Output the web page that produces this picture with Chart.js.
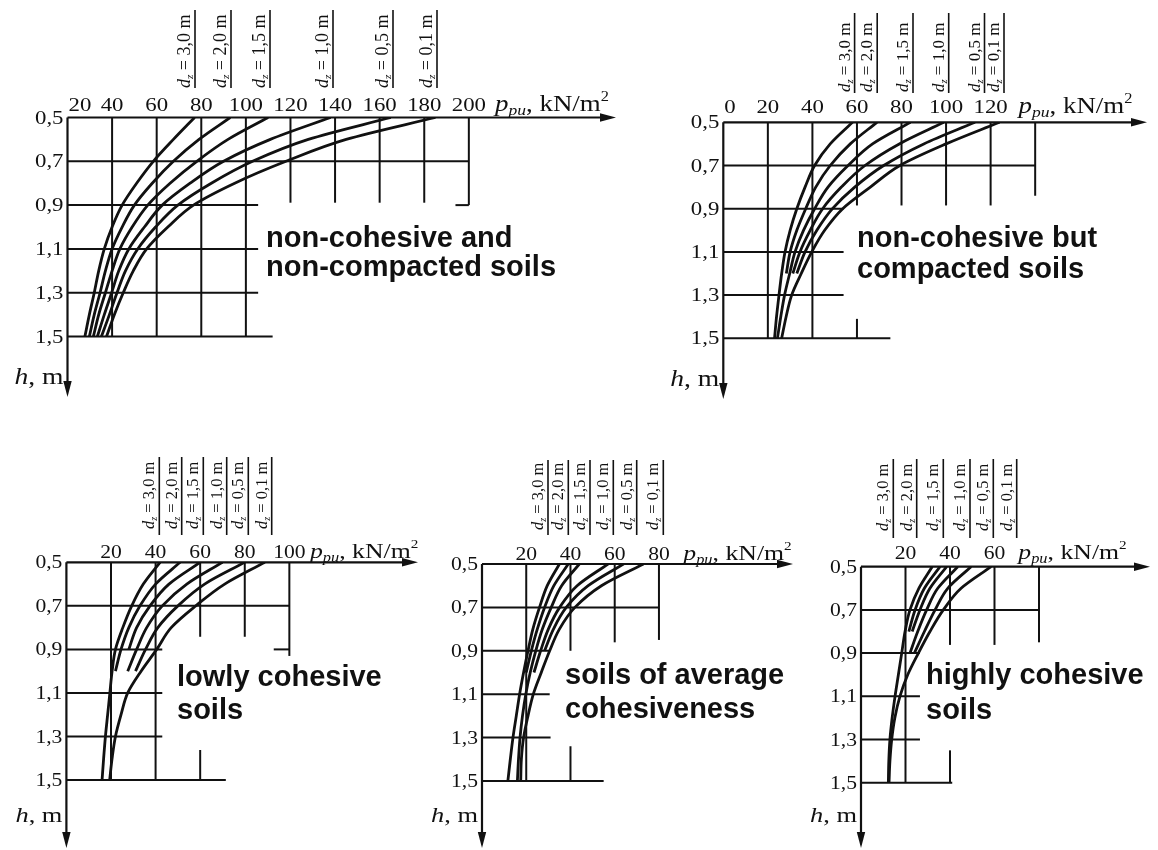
<!DOCTYPE html>
<html>
<head>
<meta charset="utf-8">
<script src="https://cdn.jsdelivr.net/npm/chart.js@4/dist/chart.umd.min.js"></script>
<style>
html,body{margin:0;padding:0;background:#fff;width:1158px;height:850px;overflow:hidden}
#wrap{position:relative;width:1158px;height:850px;background:#fff}
#wrap canvas{position:absolute;left:0;top:0}
</style>
</head>
<body>
<div id="wrap"></div>
<script>
// ---------------- DATA ----------------
const hLevels = [0.5, 0.6, 0.7, 0.8, 0.9, 1.0, 1.1, 1.2, 1.3, 1.4, 1.5];
const depthLabels = ['3,0', '2,0', '1,5', '1,0', '0,5', '0,1'];
const yTicks = [0.5, 0.7, 0.9, 1.1, 1.3, 1.5];

// Panel 1: non-cohesive and non-compacted soils
const p1Ticks = [20, 40, 60, 80, 100, 120, 140, 160, 180, 200];
const p1d30 = [77, 67.5, 58.5, 51, 44.5, 40, 36.5, 34, 32, 29.8, 27.8];
const p1d20 = [93, 79, 67.5, 58, 50, 44.5, 40, 37, 34.6, 32, 29.8];
const p1d15 = [110, 92, 78, 66, 56, 49, 43.5, 40, 37, 34, 31.6];
const p1d10 = [138, 111, 90, 75, 62.5, 54.5, 47.5, 43, 39.8, 36.5, 33.4];
const p1d05 = [165, 128, 103, 84.5, 69.5, 59.5, 51.5, 46, 42.2, 38.8, 35.2];
const p1d01 = [185, 145, 118, 95, 76.5, 65, 55.5, 49.5, 45, 41, 37.5];
const p1GridV = [[40,0.5,1.5],[60,0.5,1.5],[80,0.5,1.5],[100,0.5,1.5],[120,0.5,0.889],[140,0.5,0.889],[160,0.5,0.889],[180,0.5,0.889],[200,0.5,0.9]];
const p1GridH = [[0.7,20,200],[0.9,20,105.5],[0.9,194,200],[1.1,20,105.5],[1.3,20,105.5],[1.5,20,112]];

// Panel 2: non-cohesive but compacted soils
const p2Ticks = [0, 20, 40, 60, 80, 100, 120];
const p2d30 = [58, 48, 41, 36.7, 33, 30, 27.7, 26.2, 25, 23.9, 23];
const p2d20 = [69, 57, 48, 41.5, 37, 33, 30, 28.3];
const p2d15 = [84, 67, 56, 47, 41, 36, 32.2, 29.8, 27.5, 25.8, 24.3];
const p2d10 = [99, 79, 63.6, 53, 44.6, 39, 34.4, 31.2];
const p2d05 = [113, 90, 72, 59, 49, 42, 36.7, 33];
const p2d01 = [124, 100, 79.3, 66, 53.6, 45.5, 39.7, 35, 30.7, 28.2, 26.2];
const p2GridV = [[20,0.5,1.5],[40,0.5,1.5],[60,0.5,0.885],[60,1.41,1.5],[80,0.5,0.885],[100,0.5,0.885],[120,0.5,0.885],[140,0.5,0.84]];
const p2GridH = [[0.7,0,140],[0.9,0,54],[1.1,0,54],[1.3,0,54],[1.5,0,75]];

// Panel 3: lowly cohesive soils
const p3Ticks = [20, 40, 60, 80, 100];
const p3d30 = [42, 34.5, 29.3, 25.3, 22, 20.5, 19.5, 18.5, 17.5, 16.7, 16];
const p3d20 = [51, 40, 33, 28, 24.5, 22];
const p3d15 = [60, 46, 37.5, 31.5, 28];
const p3d10 = [70, 54, 43, 36, 31.5, 27.5];
const p3d05 = [80, 62, 50, 41, 35.5, 31];
const p3d01 = [89, 71, 58, 47, 40.5, 33.5, 27.5, 24.5, 22, 20.5, 19.4];
const p3GridV = [[20,0.5,1.5],[40,0.5,1.5],[60,0.5,0.842],[60,1.362,1.5],[80,0.5,0.842],[100,0.5,0.93]];
const p3GridH = [[0.7,0,100],[0.9,0,43],[0.9,93,100],[1.1,0,43],[1.3,0,43],[1.5,0,71.5]];

// Panel 4: soils of average cohesiveness
const p4Ticks = [20, 40, 60, 80];
const p4d30 = [35, 29.5, 26, 23, 20.8, 18.8, 17, 15.5, 14, 12.8, 11.7];
const p4d20 = [39, 32.5, 28.3, 25, 22.3, 20];
const p4d15 = [44, 36, 31.3, 27.3, 24.3, 21.8, 19.8, 18.3, 17.2, 16.5, 16];
const p4d10 = [57, 43, 35.1, 30, 26.5, 23.5];
const p4d05 = [64, 48, 38.1, 32.3, 28.3];
const p4d01 = [73, 54, 42, 35, 30.6, 26.8, 23.2, 20.8, 18.8, 17.8, 17.5];
const p4GridV = [[20,0.5,1.5],[40,0.5,0.9],[40,1.34,1.5],[60,0.5,0.861],[80,0.5,0.85]];
const p4GridH = [[0.7,0,80],[0.9,0,30.6],[1.1,0,30.6],[1.3,0,31],[1.5,0,55]];

// Panel 5: highly cohesive soils
const p5Ticks = [20, 40, 60];
const p5d30 = [32, 26, 22, 19.8, 18.3, 16.8, 15.3, 14, 13, 12.5, 12.3];
const p5d20 = [35.5, 28.5, 24.3, 21.5];
const p5d15 = [38.5, 31, 26.5, 23];
const p5d10 = [43.5, 34.5, 29.5, 25.5, 22];
const p5d05 = [49.5, 39, 33.3, 28.5, 24];
const p5d01 = [58.5, 45, 37, 31, 25.8, 21, 17.5, 15.2, 13.8, 13, 12.6];
const p5GridV = [[20,0.5,1.5],[40,0.5,0.862],[40,1.35,1.5],[60,0.5,0.862],[80,0.5,0.85]];
const p5GridH = [[0.7,0,80],[0.9,0,26.5],[1.1,0,26.5],[1.3,0,26.5],[1.5,0,41]];

// ---------------- LAYOUT / STYLE ----------------
const W = 1158, H = 850;
const INK = '#111';
const SERIF = '"Liberation Serif", "Times New Roman", serif';
const SANS = '"Liberation Sans", Arial, sans-serif';
const TEXT_SX = 1.2;

const panels = [
  { area:{left:67.5, top:117.5, right:616, bottom:397}, xMin:20, xMax:266, yMax:1.776,
    ticks:p1Ticks, series:[p1d30,p1d20,p1d15,p1d10,p1d05,p1d01], gridV:p1GridV, gridH:p1GridH,
    caption:['non-cohesive and','non-compacted soils'], capX:266, capY:247, capGap:29,
    sep:[195,231,270,333,393,437], sepTop:10, sepBottom:88, lblBottom:88, lblSize:18,
    unitX:495, unitSize:23, tickSize:19, tickBase:111, hBase:384, hSize:23 },
  { area:{left:723.3, top:122.3, right:1147, bottom:399}, xMin:0, xMax:190.2, yMax:1.781,
    ticks:p2Ticks, series:[p2d30,p2d20,p2d15,p2d10,p2d05,p2d01], gridV:p2GridV, gridH:p2GridH,
    caption:['non-cohesive but','compacted soils'], capX:857, capY:247, capGap:31,
    sep:[854.6,877.2,913,948.7,984.5,1004], sepTop:13, sepBottom:93, lblBottom:92, lblSize:17,
    unitX:1018.5, unitSize:23, tickSize:19, tickBase:113.3, hBase:386, hSize:23 },
  { area:{left:66.4, top:562.3, right:418, bottom:848}, xMin:0, xMax:157.7, yMax:1.812,
    ticks:p3Ticks, series:[p3d30,p3d20,p3d15,p3d10,p3d05,p3d01], gridV:p3GridV, gridH:p3GridH,
    caption:['lowly cohesive','soils'], capX:177, capY:686, capGap:33,
    sep:[159.3,181.7,203.3,226.7,248.3,271.7], sepTop:457, sepBottom:535, lblBottom:529, lblSize:16.5,
    unitX:310, unitSize:22, tickSize:18, tickBase:557.5, hBase:822, hSize:22 },
  { area:{left:482, top:564, right:793, bottom:848}, xMin:0, xMax:140.6, yMax:1.809,
    ticks:p4Ticks, series:[p4d30,p4d20,p4d15,p4d10,p4d05,p4d01], gridV:p4GridV, gridH:p4GridH,
    caption:['soils of average','cohesiveness'], capX:565, capY:684, capGap:34,
    sep:[548,568.3,590,613.3,636.7,663.3], sepTop:460, sepBottom:535, lblBottom:530, lblSize:16.5,
    unitX:683.3, unitSize:22, tickSize:18, tickBase:560, hBase:822, hSize:22 },
  { area:{left:861, top:566.7, right:1150, bottom:848}, xMin:0, xMax:129.9, yMax:1.802,
    ticks:p5Ticks, series:[p5d30,p5d20,p5d15,p5d10,p5d05,p5d01], gridV:p5GridV, gridH:p5GridH,
    caption:['highly cohesive','soils'], capX:926, capY:684, capGap:35,
    sep:[893.3,916.7,943.3,970,993.3,1016.7], sepTop:459, sepBottom:538, lblBottom:531, lblSize:16.5,
    unitX:1018.3, unitSize:22, tickSize:18, tickBase:559, hBase:822, hSize:22 }
];

// ---------------- HELPERS ----------------
function drawRuns(ctx, runs, x, y, sx, align) {
  ctx.save();
  ctx.translate(x, y);
  ctx.scale(sx, 1);
  ctx.fillStyle = INK;
  ctx.textBaseline = 'alphabetic';
  ctx.textAlign = 'left';
  let w = 0;
  for (const r of runs) { ctx.font = r.f; w += ctx.measureText(r.t).width; }
  let cx = align === 'right' ? -w : (align === 'center' ? -w / 2 : 0);
  for (const r of runs) {
    ctx.font = r.f;
    ctx.fillText(r.t, cx, r.dy || 0);
    cx += ctx.measureText(r.t).width;
  }
  ctx.restore();
}
function arrowHead(ctx, x, y, dir) {
  ctx.beginPath();
  if (dir === 'right') { ctx.moveTo(x, y); ctx.lineTo(x - 16, y - 4.2); ctx.lineTo(x - 16, y + 4.2); }
  else { ctx.moveTo(x, y); ctx.lineTo(x - 4.2, y - 16); ctx.lineTo(x + 4.2, y - 16); }
  ctx.closePath();
  ctx.fill();
}
function fmtH(v) { return v.toFixed(1).replace('.', ','); }

function makePlugin(P) {
  return {
    id: 'nomogram',
    beforeDatasetsDraw(chart) {
      const ctx = chart.ctx, xs = chart.scales.x, ys = chart.scales.y, ca = chart.chartArea;
      ctx.save();
      ctx.strokeStyle = INK; ctx.fillStyle = INK; ctx.lineCap = 'butt';
      ctx.lineWidth = 2;
      for (const [v, a, b] of P.gridV) {
        const x = xs.getPixelForValue(v);
        ctx.beginPath(); ctx.moveTo(x, ys.getPixelForValue(a)); ctx.lineTo(x, ys.getPixelForValue(b)); ctx.stroke();
      }
      for (const [h, a, b] of P.gridH) {
        const y = ys.getPixelForValue(h);
        ctx.beginPath(); ctx.moveTo(xs.getPixelForValue(a), y); ctx.lineTo(xs.getPixelForValue(b), y); ctx.stroke();
      }
      ctx.lineWidth = 2.2;
      const x0 = xs.getPixelForValue(P.xMin), y0 = ys.getPixelForValue(0.5);
      ctx.beginPath(); ctx.moveTo(x0, y0); ctx.lineTo(ca.right - 10, y0); ctx.stroke();
      ctx.beginPath(); ctx.moveTo(x0, y0); ctx.lineTo(x0, ca.bottom - 10); ctx.stroke();
      arrowHead(ctx, ca.right, y0, 'right');
      arrowHead(ctx, x0, ca.bottom, 'down');
      ctx.restore();
    },
    afterDatasetsDraw(chart) {
      const ctx = chart.ctx, xs = chart.scales.x, ys = chart.scales.y;
      const x0 = xs.getPixelForValue(P.xMin);
      const tickFont = P.tickSize + 'px ' + SERIF;
      for (const t of P.ticks) {
        const px = xs.getPixelForValue(t);
        if (t === P.xMin) drawRuns(ctx, [{t: String(t), f: tickFont}], px + 1, P.tickBase, TEXT_SX, 'left');
        else drawRuns(ctx, [{t: String(t), f: tickFont}], px, P.tickBase, TEXT_SX, 'center');
      }
      for (const h of yTicks) {
        const py = ys.getPixelForValue(h);
        drawRuns(ctx, [{t: fmtH(h), f: tickFont}], x0 - 4, py + 6, TEXT_SX, 'right');
      }
      const us = P.unitSize;
      drawRuns(ctx, [
        {t: 'p', f: 'italic ' + us + 'px ' + SERIF},
        {t: 'pu', f: 'italic ' + Math.round(us * 0.64) + 'px ' + SERIF, dy: 4},
        {t: ', kN/m', f: us + 'px ' + SERIF},
        {t: '2', f: Math.round(us * 0.6) + 'px ' + SERIF, dy: -10}
      ], P.unitX, P.tickBase, 1.17, 'left');
      drawRuns(ctx, [
        {t: 'h', f: 'italic ' + P.hSize + 'px ' + SERIF},
        {t: ', m', f: P.hSize + 'px ' + SERIF}
      ], x0 - 4, P.hBase, TEXT_SX, 'right');
      ctx.save();
      ctx.strokeStyle = INK; ctx.lineWidth = 1.6;
      P.sep.forEach((sx, i) => {
        ctx.beginPath(); ctx.moveTo(sx, P.sepTop); ctx.lineTo(sx, P.sepBottom); ctx.stroke();
        ctx.save();
        ctx.translate(sx - 5, P.lblBottom);
        ctx.rotate(-Math.PI / 2);
        drawRuns(ctx, [
          {t: 'd', f: 'italic ' + P.lblSize + 'px ' + SERIF},
          {t: 'z', f: 'italic ' + (P.lblSize * 0.62) + 'px ' + SERIF, dy: 3},
          {t: ' = ' + depthLabels[i] + ' m', f: P.lblSize + 'px ' + SERIF}
        ], 0, 0, 1, 'left');
        ctx.restore();
      });
      ctx.restore();
      P.caption.forEach((line, i) => {
        drawRuns(ctx, [{t: line, f: 'bold 29px ' + SANS}], P.capX, P.capY + i * P.capGap, 1, 'left');
      });
    }
  };
}

// ---------------- CHARTS ----------------
const wrap = document.getElementById('wrap');
panels.forEach((P) => {
  const cv = document.createElement('canvas');
  cv.width = W; cv.height = H;
  cv.style.width = W + 'px'; cv.style.height = H + 'px';
  wrap.appendChild(cv);
  const A = P.area;
  new Chart(cv, {
    type: 'line',
    data: {
      datasets: P.series.map((vals, k) => ({
        label: 'd = ' + depthLabels[k] + ' m',
        data: vals.map((v, i) => ({x: v, y: hLevels[i]})),
        borderColor: INK,
        backgroundColor: INK,
        borderWidth: 2.8,
        pointRadius: 0,
        pointHoverRadius: 0,
        cubicInterpolationMode: 'monotone',
        fill: false
      }))
    },
    options: {
      indexAxis: 'y',
      responsive: false,
      animation: false,
      devicePixelRatio: 1,
      events: [],
      layout: { padding: { left: A.left, top: A.top, right: W - A.right, bottom: H - A.bottom } },
      scales: {
        x: { type: 'linear', min: P.xMin, max: P.xMax, display: false },
        y: { type: 'linear', reverse: true, min: 0.5, max: P.yMax, display: false }
      },
      plugins: { legend: { display: false }, tooltip: { enabled: false } }
    },
    plugins: [makePlugin(P)]
  });
});
</script>
</body>
</html>
